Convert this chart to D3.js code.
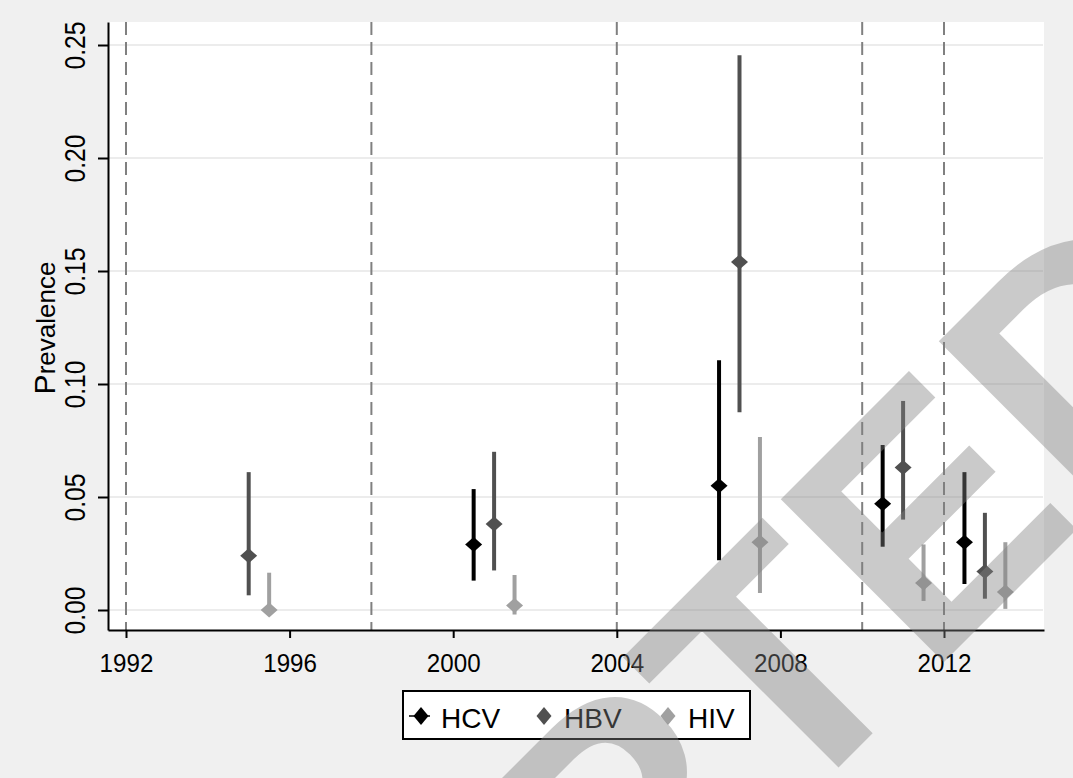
<!DOCTYPE html>
<html>
<head>
<meta charset="utf-8">
<script src="https://cdn.jsdelivr.net/npm/d3@7"></script>
<style>
  body { margin: 0; background: #f0f0f0; }
  svg { display: block; }
  text { font-family: "Liberation Sans", Arial, sans-serif; }
</style>
</head>
<body>
<script>
// series: year of study, point estimate, lower and upper CI
const hcvYears = [2000.5, 2006.5, 2010.5, 2012.5]
const hcvEst = [0.029, 0.055, 0.047, 0.030]
const hcvLo = [0.013, 0.022, 0.028, 0.0115]
const hcvHi = [0.0535, 0.1105, 0.073, 0.061]

const hbvYears = [1995, 2001, 2007, 2011, 2013]
const hbvEst = [0.024, 0.038, 0.154, 0.063, 0.017]
const hbvLo = [0.0065, 0.0175, 0.0875, 0.040, 0.005]
const hbvHi = [0.061, 0.070, 0.2455, 0.0925, 0.043]

const hivYears = [1995.5, 2001.5, 2007.5, 2011.5, 2013.5]
const hivEst = [0.000, 0.002, 0.030, 0.012, 0.008]
const hivLo = [0.000, -0.002, 0.0075, 0.004, 0.0005]
const hivHi = [0.0165, 0.0155, 0.0765, 0.029, 0.030]

const seriesNames = ['HCV', 'HBV', 'HIV']
const refYears = [1992, 1998, 2004, 2010, 2012]
const xTicks = [1992, 1996, 2000, 2004, 2008, 2012]
const yTicks = [0, 0.05, 0.10, 0.15, 0.20, 0.25]

const colors = {HCV: '#000000', HBV: '#505050', HIV: '#a0a0a0'}

const W = 1073, H = 778
const margin = {top: 22, left: 108, right: 29, bottom: 148}
const width = W - margin.left - margin.right
const height = H - margin.top - margin.bottom

const svg = d3.select('body').append('svg')
  .attr('width', W)
  .attr('height', H)

svg.append('rect').attr('width', W).attr('height', H).attr('fill', '#f0f0f0')

const g = svg.append('g')
  .attr('transform', `translate(${margin.left},${margin.top})`)

g.append('rect').attr('width', width).attr('height', height).attr('fill', '#ffffff')

const xScale = d3.scaleLinear().domain([1991.56, 2014.445]).range([0, width])
const yScale = d3.scaleLinear().domain([-0.00885, 0.26018]).range([height, 0])

// gridlines
g.selectAll('line.grid').data(yTicks).join('line')
  .attr('class', 'grid')
  .attr('x1', 0).attr('x2', width - 1)
  .attr('y1', (d) => yScale(d)).attr('y2', (d) => yScale(d))
  .attr('stroke', '#e6e6e6').attr('stroke-width', 1.6)

// dashed reference lines
g.selectAll('line.ref').data(refYears).join('line')
  .attr('class', 'ref')
  .attr('x1', (d) => xScale(d)).attr('x2', (d) => xScale(d))
  .attr('y1', 0).attr('y2', height)
  .attr('stroke', '#808080').attr('stroke-width', 2)
  .attr('stroke-dasharray', '13,7')

const series = [
  {name: 'HCV', years: hcvYears, est: hcvEst, lo: hcvLo, hi: hcvHi},
  {name: 'HBV', years: hbvYears, est: hbvEst, lo: hbvLo, hi: hbvHi},
  {name: 'HIV', years: hivYears, est: hivEst, lo: hivLo, hi: hivHi}
]

const diamond = 'M0,-7.5L8.5,0L0,7.5L-8.5,0Z'

series.forEach((s) => {
  const rows = s.years.map((y, i) => ({year: y, est: s.est[i], lo: s.lo[i], hi: s.hi[i]}))
  const sg = g.append('g').attr('class', s.name)
  sg.selectAll('line').data(rows).join('line')
    .attr('x1', (d) => xScale(d.year)).attr('x2', (d) => xScale(d.year))
    .attr('y1', (d) => yScale(d.lo)).attr('y2', (d) => yScale(d.hi))
    .attr('stroke', colors[s.name]).attr('stroke-width', 4)
  sg.selectAll('path').data(rows).join('path')
    .attr('d', diamond)
    .attr('transform', (d) => `translate(${xScale(d.year)},${yScale(d.est)})`)
    .attr('fill', colors[s.name])
})

// axes
const xAxis = d3.axisBottom(xScale).tickValues(xTicks).tickFormat(d3.format('d'))
  .tickSize(8).tickSizeOuter(0)
const yAxis = d3.axisLeft(yScale).tickValues(yTicks).tickFormat(d3.format('.2f'))
  .tickSize(10).tickSizeOuter(0)

const gx = g.append('g').attr('transform', `translate(0,${height})`).call(xAxis)
const gy = g.append('g').call(yAxis)

;[gx, gy].forEach((ax) => {
  ax.select('.domain').attr('stroke', '#000').attr('stroke-width', 2)
  ax.selectAll('.tick line').attr('stroke', '#000').attr('stroke-width', 2)
})

gx.selectAll('.tick text')
  .attr('y', 0).attr('dy', 0)
  .attr('transform', 'translate(0,42) scale(0.93,1)')
  .attr('font-size', 26).attr('fill', '#000')
  .attr('font-family', '"Liberation Sans", Arial, sans-serif')

gy.selectAll('.tick text')
  .attr('x', 0).attr('dy', 0)
  .attr('text-anchor', 'middle')
  .attr('transform', 'translate(-23,0) rotate(-90) scale(0.82,1)')
  .attr('font-size', 30).attr('fill', '#000')
  .attr('font-family', '"Liberation Sans", Arial, sans-serif')

// y axis title
const yt = svg.append('text')
  .attr('transform', 'translate(55,328) rotate(-90)')
  .attr('text-anchor', 'middle')
  .attr('font-size', 26)
yt.append('tspan').attr('font-size', 30).text('P')
yt.append('tspan').text('revalence')

// legend
const lg = svg.append('g').attr('transform', 'translate(403,691)')
lg.append('rect').attr('width', 347).attr('height', 48)
  .attr('fill', '#fff').attr('stroke', '#000').attr('stroke-width', 2)
const legendX = [18, 141, 265]
lg.append('line').attr('x1', 6).attr('x2', 27).attr('y1', 25).attr('y2', 25)
  .attr('stroke', '#000').attr('stroke-width', 1.5)
seriesNames.forEach((n, i) => {
  lg.append('path').attr('d', 'M0,-9L7.5,0L0,9L-7.5,0Z')
    .attr('transform', `translate(${legendX[i]},25)`)
    .attr('fill', colors[n])
  lg.append('text').attr('x', legendX[i] + 20).attr('y', 37)
    .attr('font-size', 28).attr('fill', '#000').text(n)
})

// ACCEPTED watermark
svg.append('text')
  .attr('transform', 'translate(1257,349) rotate(-45)')
  .attr('text-anchor', 'end')
  .attr('font-size', 335).attr('font-weight', 'bold')
  .attr('fill', 'rgba(128,128,128,0.42)')
  .text('ACCEPTED')
</script>
</body>
</html>
